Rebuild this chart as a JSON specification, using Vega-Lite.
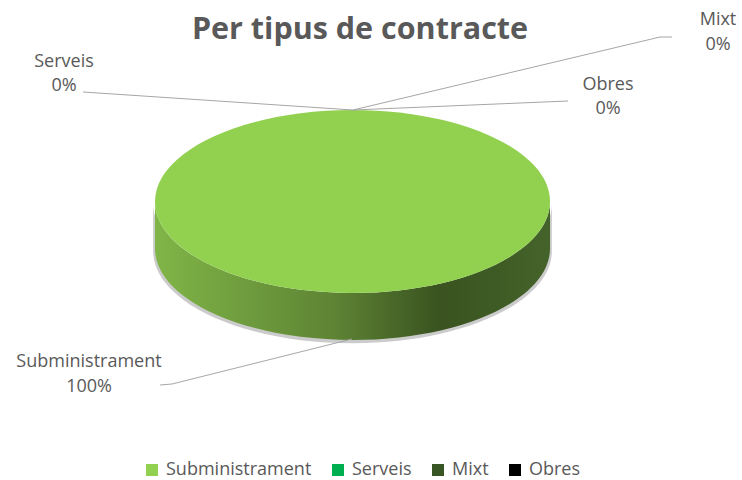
{
  "$schema": "https://vega.github.io/schema/vega-lite/v6.json",
  "width": 742,
  "height": 480,
  "padding": 0,
  "autosize": {"type": "none"},
  "background": "#ffffff",
  "title": {
    "text": "Per tipus de contracte",
    "font": "Open Sans",
    "fontSize": 30.5,
    "fontWeight": "bold",
    "color": "#595959",
    "anchor": "middle",
    "frame": "group",
    "baseline": "alphabetic",
    "offset": -39,
    "dy": 30,
    "dx": -11
  },
  "data": {
    "values": [
      {"tipus": "Subministrament", "percentatge": 100},
      {"tipus": "Serveis", "percentatge": 0},
      {"tipus": "Mixt", "percentatge": 0},
      {"tipus": "Obres", "percentatge": 0}
    ]
  },
  "transform": [
    {"calculate": "datum.tipus + '\\n' + datum.percentatge + '%'", "as": "etiqueta"}
  ],
  "layer": [
    {
      "transform": [{"filter": "datum.percentatge > 0"}],
      "mark": {
        "type": "point",
        "filled": true,
        "opacity": 0.45,
        "shape": "M -1 0 L -1 0.238 A 1 0.4633 0 0 0 1 0.238 L 1 0 A 1 0.4633 0 0 1 -1 0 Z",
        "size": 159000,
        "fill": "#8c8c8c"
      },
      "encoding": {
        "x": {"datum": 352.5, "type": "quantitative", "scale": {"domain": [0, 742], "nice": false, "zero": false}},
        "y": {"datum": 203.5, "type": "quantitative", "scale": {"domain": [0, 480], "nice": false, "zero": false, "reverse": true}}
      }
    },
    {
      "transform": [{"filter": "datum.percentatge > 0"}],
      "mark": {
        "type": "point",
        "filled": true,
        "opacity": 1,
        "shape": "M -1 0 L -1 0.238 A 1 0.4633 0 0 0 1 0.238 L 1 0 A 1 0.4633 0 0 1 -1 0 Z",
        "size": 156025,
        "fill": {
          "gradient": "linear",
          "x1": 0, "y1": 0, "x2": 1, "y2": 0,
          "stops": [
            {"offset": 0, "color": "#80b547"},
            {"offset": 0.45, "color": "#5e8434"},
            {"offset": 0.72, "color": "#3a5320"},
            {"offset": 1, "color": "#44632a"}
          ]
        }
      },
      "encoding": {
        "x": {"datum": 352.5},
        "y": {"datum": 201.5}
      }
    },
    {
      "mark": {
        "type": "point",
        "filled": true,
        "opacity": 1,
        "shape": "M -1 0 A 1 0.4633 0 1 1 1 0 A 1 0.4633 0 1 1 -1 0 Z"
      },
      "encoding": {
        "x": {"datum": 352.5},
        "y": {"datum": 201.5},
        "color": {
          "field": "tipus",
          "type": "nominal",
          "sort": ["Subministrament", "Serveis", "Mixt", "Obres"],
          "scale": {
            "domain": ["Subministrament", "Serveis", "Mixt", "Obres"],
            "range": ["#92d050", "#00b050", "#375623", "#000000"]
          },
          "legend": {
            "orient": "none",
            "legendX": 143,
            "legendY": 461,
            "direction": "horizontal",
            "title": null,
            "symbolType": "square",
            "symbolSize": 144,
            "symbolOpacity": 1,
            "symbolStrokeWidth": 0,
            "labelFont": "Open Sans",
            "labelFontSize": 18,
            "labelColor": "#595959",
            "labelOffset": 5,
            "labelLimit": 300,
            "columnPadding": 17,
            "padding": 0
          }
        },
        "size": {
          "field": "percentatge",
          "type": "quantitative",
          "scale": {"domain": [0, 100], "range": [0, 156025], "zero": true},
          "legend": null
        }
      }
    },
    {
      "transform": [{"filter": "datum.tipus == 'Serveis'"}],
      "mark": {"type": "rule", "color": "#a6a6a6", "strokeWidth": 1},
      "encoding": {"x": {"datum": 83}, "y": {"datum": 92}, "x2": {"datum": 353}, "y2": {"datum": 110}}
    },
    {
      "transform": [{"filter": "datum.tipus == 'Mixt'"}],
      "mark": {"type": "rule", "color": "#a6a6a6", "strokeWidth": 1},
      "encoding": {"x": {"datum": 353}, "y": {"datum": 110}, "x2": {"datum": 660}, "y2": {"datum": 37}}
    },
    {
      "transform": [{"filter": "datum.tipus == 'Mixt'"}],
      "mark": {"type": "rule", "color": "#a6a6a6", "strokeWidth": 1},
      "encoding": {"x": {"datum": 660}, "y": {"datum": 37}, "x2": {"datum": 672}, "y2": {"datum": 37}}
    },
    {
      "transform": [{"filter": "datum.tipus == 'Obres'"}],
      "mark": {"type": "rule", "color": "#a6a6a6", "strokeWidth": 1},
      "encoding": {"x": {"datum": 353}, "y": {"datum": 110}, "x2": {"datum": 568}, "y2": {"datum": 101}}
    },
    {
      "transform": [{"filter": "datum.tipus == 'Subministrament'"}],
      "mark": {"type": "rule", "color": "#a6a6a6", "strokeWidth": 1},
      "encoding": {"x": {"datum": 160}, "y": {"datum": 385}, "x2": {"datum": 172}, "y2": {"datum": 384}}
    },
    {
      "transform": [{"filter": "datum.tipus == 'Subministrament'"}],
      "mark": {"type": "rule", "color": "#a6a6a6", "strokeWidth": 1},
      "encoding": {"x": {"datum": 172}, "y": {"datum": 384}, "x2": {"datum": 352}, "y2": {"datum": 339}}
    },
    {
      "transform": [{"filter": "datum.tipus == 'Serveis'"}],
      "mark": {"type": "text", "font": "Open Sans", "fontSize": 18, "color": "#595959", "align": "center", "baseline": "alphabetic", "lineBreak": "\n", "lineHeight": 24},
      "encoding": {"x": {"datum": 64}, "y": {"datum": 67}, "text": {"field": "etiqueta"}}
    },
    {
      "transform": [{"filter": "datum.tipus == 'Mixt'"}],
      "mark": {"type": "text", "font": "Open Sans", "fontSize": 18, "color": "#595959", "align": "center", "baseline": "alphabetic", "lineBreak": "\n", "lineHeight": 25},
      "encoding": {"x": {"datum": 718}, "y": {"datum": 25}, "text": {"field": "etiqueta"}}
    },
    {
      "transform": [{"filter": "datum.tipus == 'Obres'"}],
      "mark": {"type": "text", "font": "Open Sans", "fontSize": 18, "color": "#595959", "align": "center", "baseline": "alphabetic", "lineBreak": "\n", "lineHeight": 24},
      "encoding": {"x": {"datum": 608}, "y": {"datum": 90}, "text": {"field": "etiqueta"}}
    },
    {
      "transform": [{"filter": "datum.tipus == 'Subministrament'"}],
      "mark": {"type": "text", "font": "Open Sans", "fontSize": 18, "color": "#595959", "align": "center", "baseline": "alphabetic", "lineBreak": "\n", "lineHeight": 25},
      "encoding": {"x": {"datum": 89}, "y": {"datum": 367}, "text": {"field": "etiqueta"}}
    }
  ],
  "config": {
    "view": {"stroke": null},
    "axis": {"disable": true}
  }
}
